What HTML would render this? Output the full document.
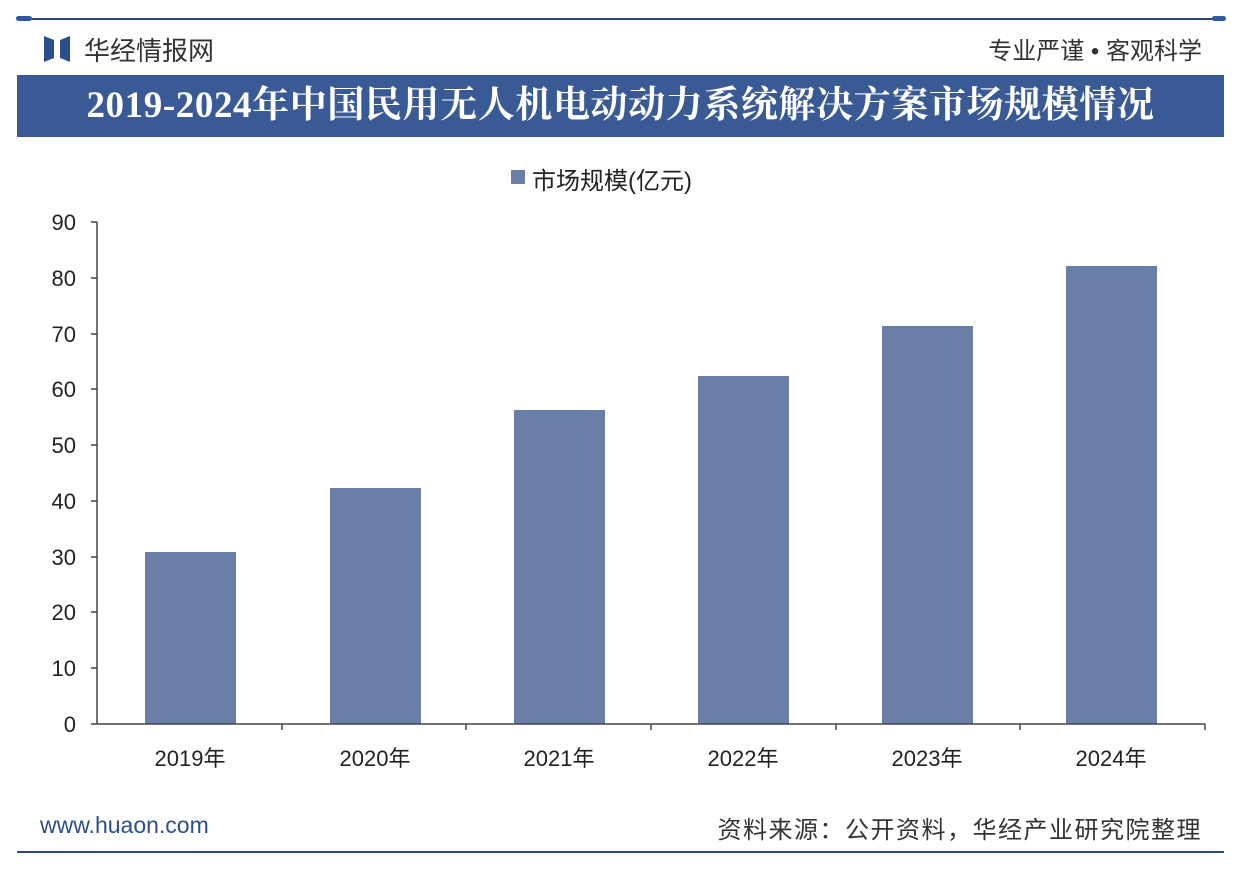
<!DOCTYPE html><html><head><meta charset="utf-8"><style>
body{margin:0;width:1242px;height:874px;background:#fff;position:relative;overflow:hidden;font-family:"Liberation Sans","Noto Sans CJK SC",sans-serif}
.a{position:absolute}
</style></head><body>
<div class="a" style="left:17px;top:18px;width:1207px;height:2px;background:#2f4a80"></div>
<div class="a" style="left:16px;top:16px;width:16px;height:5px;border-radius:3px;background:#2f5aa0"></div>
<div class="a" style="left:1212px;top:16px;width:14px;height:5px;border-radius:3px;background:#2f5aa0"></div>
<svg class="a" style="left:44px;top:36px" width="26" height="26"><polygon points="0,0 10,4 10,22 0,26" fill="#2c4f8c"/><polygon points="26,0 16,4 16,22 26,26" fill="#2c4f8c"/></svg>
<div class="a" style="left:84px;top:31px;font-size:26px;color:#333">华经情报网</div>
<div class="a" style="right:40px;top:31px;font-size:24px;color:#333">专业严谨 • 客观科学</div>
<div class="a" style="left:17px;top:75px;width:1207px;height:62px;background:#3a5a95"></div>
<div class="a" style="left:17px;top:75px;width:1207px;height:62px;line-height:62px;text-align:center;color:#fff;font-weight:bold;font-size:37px;letter-spacing:0.6px;font-family:'Liberation Serif','Noto Serif CJK SC',serif">2019-2024年中国民用无人机电动动力系统解决方案市场规模情况</div>
<div class="a" style="left:511px;top:170px;width:14px;height:14px;background:#6a7fa8"></div>
<div class="a" style="left:532px;top:161px;font-size:24px;color:#222">市场规模(亿元)</div>
<svg class="a" style="left:0;top:0" width="1242" height="874">
<g fill="#6a7fa8">
<rect x="145" y="552" width="91" height="172"/>
<rect x="330" y="488" width="91" height="236"/>
<rect x="514" y="410" width="91" height="314"/>
<rect x="698" y="376" width="91" height="348"/>
<rect x="882" y="326" width="91" height="398"/>
<rect x="1066" y="266" width="91" height="458"/>
</g>
<g stroke="#444" stroke-width="1.5">
<line x1="97" y1="222" x2="97" y2="724"/><line x1="97" y1="724" x2="1205" y2="724"/>
<line x1="91" y1="222" x2="97" y2="222"/><line x1="91" y1="278" x2="97" y2="278"/><line x1="91" y1="334" x2="97" y2="334"/><line x1="91" y1="389" x2="97" y2="389"/><line x1="91" y1="445" x2="97" y2="445"/><line x1="91" y1="501" x2="97" y2="501"/><line x1="91" y1="557" x2="97" y2="557"/><line x1="91" y1="612" x2="97" y2="612"/><line x1="91" y1="668" x2="97" y2="668"/><line x1="91" y1="724" x2="97" y2="724"/>
<line x1="282" y1="724" x2="282" y2="730"/><line x1="466" y1="724" x2="466" y2="730"/><line x1="651" y1="724" x2="651" y2="730"/><line x1="836" y1="724" x2="836" y2="730"/><line x1="1020" y1="724" x2="1020" y2="730"/><line x1="1205" y1="724" x2="1205" y2="730"/>
</g>
<g font-size="22" fill="#222" text-anchor="end" font-family="Liberation Sans">
<text x="76" y="230">90</text><text x="76" y="286">80</text><text x="76" y="342">70</text><text x="76" y="397">60</text><text x="76" y="453">50</text><text x="76" y="509">40</text><text x="76" y="565">30</text><text x="76" y="620">20</text><text x="76" y="676">10</text><text x="76" y="732">0</text>
</g>
<g font-size="22" fill="#222" text-anchor="middle" font-family="Liberation Sans,Noto Sans CJK SC">
<text x="190" y="766">2019年</text><text x="375" y="766">2020年</text><text x="559" y="766">2021年</text><text x="743" y="766">2022年</text><text x="927" y="766">2023年</text><text x="1111" y="766">2024年</text>
</g>
<line x1="17" y1="852" x2="1224" y2="852" stroke="#2f4a80" stroke-width="2"/>
</svg>
<div class="a" style="left:40px;top:812px;font-size:23px;color:#2c4f8c">www.huaon.com</div>
<div class="a" style="right:40px;top:810px;font-size:24px;letter-spacing:1.5px;color:#333">资料来源：公开资料，华经产业研究院整理</div>
</body></html>
